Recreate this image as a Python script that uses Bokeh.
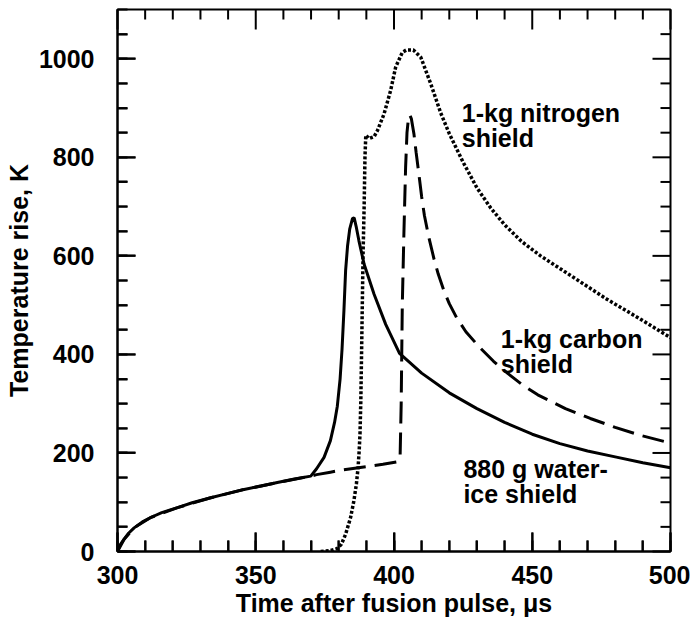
from bokeh.plotting import figure
from bokeh.models import LinearAxis, SingleIntervalTicker, Range1d
from bokeh.core.properties import value
from bokeh.embed import file_html
from bokeh.resources import INLINE

# ---- data ----
water_t = [300, 301, 302.4, 304, 306, 309, 312, 316, 321.7, 327, 333.7, 340, 345.8, 352, 357.8, 364, 369.9,
           372, 374.7, 377, 378.5, 379.5, 380.5, 381.2, 381.9, 382.5, 383.2, 384, 385, 385.6, 386.3, 387.3,
           389.2, 392.8, 397, 402, 410, 420, 430, 440, 450, 460, 470, 480, 490, 500]
water_y = [0, 14, 25, 37, 48, 60, 69, 79, 89, 99, 109, 118, 126, 133, 140, 147, 153,
           168, 191, 225, 262, 295, 350, 410, 490, 570, 620, 655, 676, 677, 660, 631,
           583, 522, 461, 402, 362, 322, 290, 262, 238, 219, 204, 192, 180, 170]

carbon_t = [300, 302.4, 306, 312, 321.7, 333.7, 345.8, 357.8, 369.9, 372, 377, 381, 390, 396, 401, 402.2,
            402.6, 403, 403.6, 404.2, 404.7, 405.2, 405.7, 406.3, 407.2, 408, 409, 410, 411, 412.5,
            414.5, 416, 418, 420, 422.6, 426, 431, 436, 441, 446, 452, 462, 471, 480, 489, 500]
carbon_y = [0, 25, 48, 69, 89, 109, 126, 140, 153, 156, 161, 165, 172, 177, 182, 190,
            300, 500, 650, 780, 850, 878, 886, 878, 848, 810, 766, 720, 682, 640,
            593, 563, 530, 503, 475, 446, 414, 386, 362, 340, 318, 290, 270, 252, 236, 220]

nitrogen_t = [373.5, 377, 379.5, 381, 382.5, 384.3, 385.5, 386.4, 387, 387.4, 387.7, 388, 388.4, 388.8,
              389.2, 389.5, 389.8, 391, 392.8, 394, 396.4, 398.8, 400.6, 403, 404.5, 407, 409.7, 413.3,
              416.9, 420, 425, 430, 435, 440, 446, 453, 465, 477, 489, 500]
nitrogen_y = [0, 2, 6, 15, 35, 69, 103, 137, 170, 204, 238, 306, 450, 600,
              700, 800, 845, 838, 842, 854, 888, 936, 983, 1013, 1018, 1018, 1003, 949,
              890, 848, 790, 738, 697, 663, 630, 600, 556, 512, 472, 434]

label_text = ["1-kg nitrogen", "shield", "1-kg carbon", "shield", "880 g water-", "ice shield"]
label_t = [424.5, 424.5, 438.6, 438.6, 425.1, 425.1]
label_y = [889, 839, 432, 381, 168, 117]

x_major_ticks = [300, 350, 400, 450, 500]
x_minor_ticks = [310, 320, 330, 340, 360, 370, 380, 390, 410, 420, 430, 440, 460, 470, 480, 490]
y_major_ticks = [0, 200, 400, 600, 800, 1000]
y_minor_ticks = [50, 100, 150, 250, 300, 350, 450, 500, 550, 650, 700, 750, 850, 900, 950, 1050]

x_title = "Time after fusion pulse, \u03bcs"
y_title = "Temperature rise, K"

FONT = "Liberation Sans"
X0, X1, Y0, Y1 = 300, 500, 0, 1100
FW, FH = 553, 542

p = figure(frame_width=FW, frame_height=FH, output_backend="svg", toolbar_location=None,
           x_range=Range1d(X0, X1), y_range=Range1d(Y0, Y1),
           min_border_left=117, min_border_right=20, min_border_top=9, min_border_bottom=83,
           x_axis_location=None, y_axis_location=None)
p.grid.visible = False
p.outline_line_color = "black"
p.outline_line_width = 2
p.background_fill_color = "white"
p.border_fill_color = "white"


def style_axis(ax, major_in, minor_in):
    ax.major_tick_in = major_in
    ax.major_tick_out = 0
    ax.minor_tick_in = minor_in
    ax.minor_tick_out = 0
    ax.major_tick_line_width = 2
    ax.minor_tick_line_width = 2
    ax.major_tick_line_color = "black"
    ax.minor_tick_line_color = "black"
    ax.axis_line_width = 2
    ax.axis_line_color = "black"
    ax.major_label_text_font = FONT
    ax.major_label_text_font_style = "bold"
    ax.major_label_text_font_size = "25px"
    ax.major_label_text_color = "black"
    ax.axis_label_text_font = FONT
    ax.axis_label_text_font_style = "bold"
    ax.axis_label_text_font_size = "25px"
    ax.axis_label_text_color = "black"


xb = LinearAxis(ticker=SingleIntervalTicker(interval=50, num_minor_ticks=5), axis_label=x_title)
style_axis(xb, 19, 11)
xb.major_label_standoff = 14
xb.axis_label_standoff = 2
p.add_layout(xb, "below")

yl = LinearAxis(ticker=SingleIntervalTicker(interval=200, num_minor_ticks=4), axis_label=y_title)
style_axis(yl, 18, 10)
yl.major_label_standoff = 23
yl.axis_label_standoff = 3
p.add_layout(yl, "left")

# curves
p.line(water_t, water_y, line_color="black", line_width=3)
p.line(carbon_t, carbon_y, line_color="black", line_width=3, line_dash="22 9")
p.line(nitrogen_t, nitrogen_y, line_color="black", line_width=3.5, line_dash="3 2")

p.text(x=label_t, y=label_y, text=label_text, text_font=value(FONT), text_font_style="bold",
       text_font_size="25px", text_align="left", text_baseline="alphabetic", text_color="black")

# inward tick marks on all four sides (lengths in pixels, converted with the frame scale),
# drawn last and on the overlay level
px_x = (X1 - X0) / FW
px_y = (Y1 - Y0) / FH


def vticks(xs, y_edge, length_px, direction):
    p.segment(x0=xs, y0=[y_edge] * len(xs), x1=xs,
              y1=[y_edge + direction * length_px * px_y] * len(xs),
              line_color="black", line_width=2, level="overlay")


def hticks(ys, x_edge, length_px, direction):
    p.segment(x0=[x_edge] * len(ys), y0=ys,
              x1=[x_edge + direction * length_px * px_x] * len(ys), y1=ys,
              line_color="black", line_width=2, level="overlay")


vticks(x_major_ticks, Y0, 19, 1)
vticks(x_minor_ticks, Y0, 11, 1)
vticks(x_major_ticks, Y1, 20, -1)
vticks(x_minor_ticks, Y1, 10, -1)
hticks(y_major_ticks, X0, 18, 1)
hticks(y_minor_ticks, X0, 10, 1)
hticks(y_major_ticks, X1, 18, -1)
hticks(y_minor_ticks, X1, 10, -1)

open("out.html", "w").write(file_html(p, INLINE))
